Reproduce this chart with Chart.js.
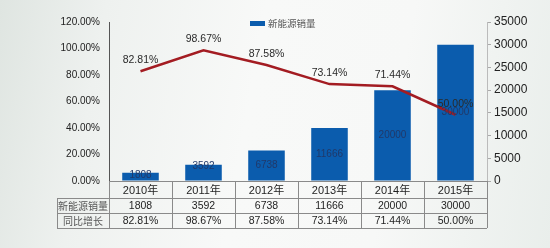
<!DOCTYPE html>
<html>
<head>
<meta charset="utf-8">
<script src="https://cdn.jsdelivr.net/npm/chart.js@4/dist/chart.umd.min.js"></script>
<style>
  html, body { margin: 0; padding: 0; }
  body {
    width: 550px; height: 248px; overflow: hidden;
    background: linear-gradient(100deg, #dfe5e1 0%, #eef1ef 18%, #f8f9f8 45%, #f7f8f7 70%, #e9eeeb 100%);
  }
  #wrap { position: relative; width: 550px; height: 248px; }
</style>
</head>
<body>
<div id="wrap"><canvas id="salesChart" width="550" height="248"></canvas></div>
<script>
const years = ['2010年', '2011年', '2012年', '2013年', '2014年', '2015年'];
const sales = [1808, 3592, 6738, 11666, 20000, 30000];
const growth = [82.81, 98.67, 87.58, 73.14, 71.44, 50.00];
const salesName = '新能源销量';
const growthName = '同比增长';

const FONT = '"Liberation Sans", Arial, "Noto Sans CJK SC", sans-serif';
const CJK = '"Noto Sans CJK SC", "Liberation Sans", sans-serif';

// labels on bars and line points
const valueLabels = {
    id: 'valueLabels',
    afterDatasetsDraw(chart) {
        const ctx = chart.ctx;
        ctx.save();
        ctx.textAlign = 'center';
        ctx.textBaseline = 'middle';
        const barMeta = chart.getDatasetMeta(0);
        ctx.font = '10px ' + FONT;
        ctx.fillStyle = '#20396a';
        barMeta.data.forEach((bar, i) => {
            let y = (bar.y + bar.base) / 2;
            if (bar.base - bar.y < 16) y = Math.min(y, bar.y + 2);
            ctx.fillText(String(sales[i]), bar.x, y);
        });
        const lineMeta = chart.getDatasetMeta(1);
        ctx.fillStyle = '#2a2a2a';
        ctx.font = '10.5px ' + FONT;
        lineMeta.data.forEach((pt, i) => {
            ctx.fillText(growth[i].toFixed(2) + '%', pt.x, pt.y - 11);
        });
        ctx.restore();
    }
};

// data table under the plot + legend
const dataTable = {
    id: 'dataTable',
    afterDraw(chart) {
        const ctx = chart.ctx;
        const area = chart.chartArea;
        const x = chart.scales.x;
        const left = area.left, right = area.right;
        const headLeft = 57;
        const rows = [area.bottom, 198, 213, 228];
        ctx.save();
        ctx.strokeStyle = '#8a8a8a';
        ctx.lineWidth = 1;
        ctx.beginPath();
        ctx.moveTo(left, rows[0] + 0.5); ctx.lineTo(right, rows[0] + 0.5);
        for (let r = 1; r < rows.length; r++) {
            ctx.moveTo(headLeft, rows[r] + 0.5); ctx.lineTo(right, rows[r] + 0.5);
        }
        ctx.moveTo(headLeft + 0.5, rows[1]); ctx.lineTo(headLeft + 0.5, rows[3]);
        const step = (right - left) / years.length;
        for (let i = 0; i <= years.length; i++) {
            const vx = Math.round(left + step * i) + 0.5;
            ctx.moveTo(vx, rows[0]); ctx.lineTo(vx, rows[3]);
        }
        ctx.stroke();

        ctx.textAlign = 'center';
        ctx.textBaseline = 'middle';
        years.forEach((yr, i) => {
            const cx = x.getPixelForValue(i);
            ctx.fillStyle = '#1e1e1e';
            ctx.font = '11px ' + FONT;
            ctx.fillText(yr, cx, (rows[0] + rows[1]) / 2 + 1);
            ctx.font = '10.5px ' + FONT;
            ctx.fillText(String(sales[i]), cx, (rows[1] + rows[2]) / 2 + 1);
            ctx.fillText(growth[i].toFixed(2) + '%', cx, (rows[2] + rows[3]) / 2 + 1);
        });
        ctx.fillStyle = '#555';
        ctx.font = '10px ' + CJK;
        ctx.fillText(salesName, (headLeft + left) / 2, (rows[1] + rows[2]) / 2 + 1);
        ctx.fillText(growthName, (headLeft + left) / 2, (rows[2] + rows[3]) / 2 + 1);

        // legend
        ctx.fillStyle = '#0b5cad';
        ctx.fillRect(250, 21, 15, 5);
        ctx.fillStyle = '#555';
        ctx.textAlign = 'left';
        ctx.font = '9.5px ' + CJK;
        ctx.fillText(salesName, 268, 23.5);
        ctx.restore();
    }
};

const ctx = document.getElementById('salesChart');
const chart = new Chart(ctx, {
    data: {
        labels: years,
        datasets: [{
            type: 'bar',
            label: salesName,
            data: sales,
            yAxisID: 'y1',
            backgroundColor: '#0b5cad',
            barPercentage: 0.58,
            categoryPercentage: 1,
            order: 2
        }, {
            type: 'line',
            label: growthName,
            data: growth,
            yAxisID: 'y',
            borderColor: '#a31c22',
            borderWidth: 2.5,
            pointRadius: 0,
            tension: 0,
            order: 1
        }]
    },
    options: {
        responsive: false,
        animation: false,
        layout: { padding: { left: 0, right: 0, top: 22, bottom: 67 } },
        plugins: {
            legend: { display: false },
            tooltip: { enabled: false }
        },
        scales: {
            x: {
                offset: true,
                grid: { display: false, drawTicks: false },
                border: { display: false },
                ticks: { display: false }
            },
            y: {
                position: 'left',
                min: 0, max: 120,
                ticks: {
                    stepSize: 20,
                    padding: 9,
                    color: '#222',
                    font: { family: FONT, size: 10 },
                    callback: v => v.toFixed(2) + '%'
                },
                grid: { display: false, drawTicks: false },
                border: { display: true, color: '#555', width: 1 },
                afterFit: s => { s.width = 109; }
            },
            y1: {
                position: 'right',
                min: 0, max: 35000,
                ticks: {
                    stepSize: 5000,
                    padding: 3,
                    color: '#222',
                    font: { family: FONT, size: 12 },
                    callback: v => String(v)
                },
                grid: { drawOnChartArea: false, tickLength: 4, color: '#aaa' },
                border: { display: true, color: '#bbb', width: 1 },
                afterFit: s => { s.width = 63; }
            }
        }
    },
    plugins: [valueLabels, dataTable]
});
</script>
</body>
</html>
